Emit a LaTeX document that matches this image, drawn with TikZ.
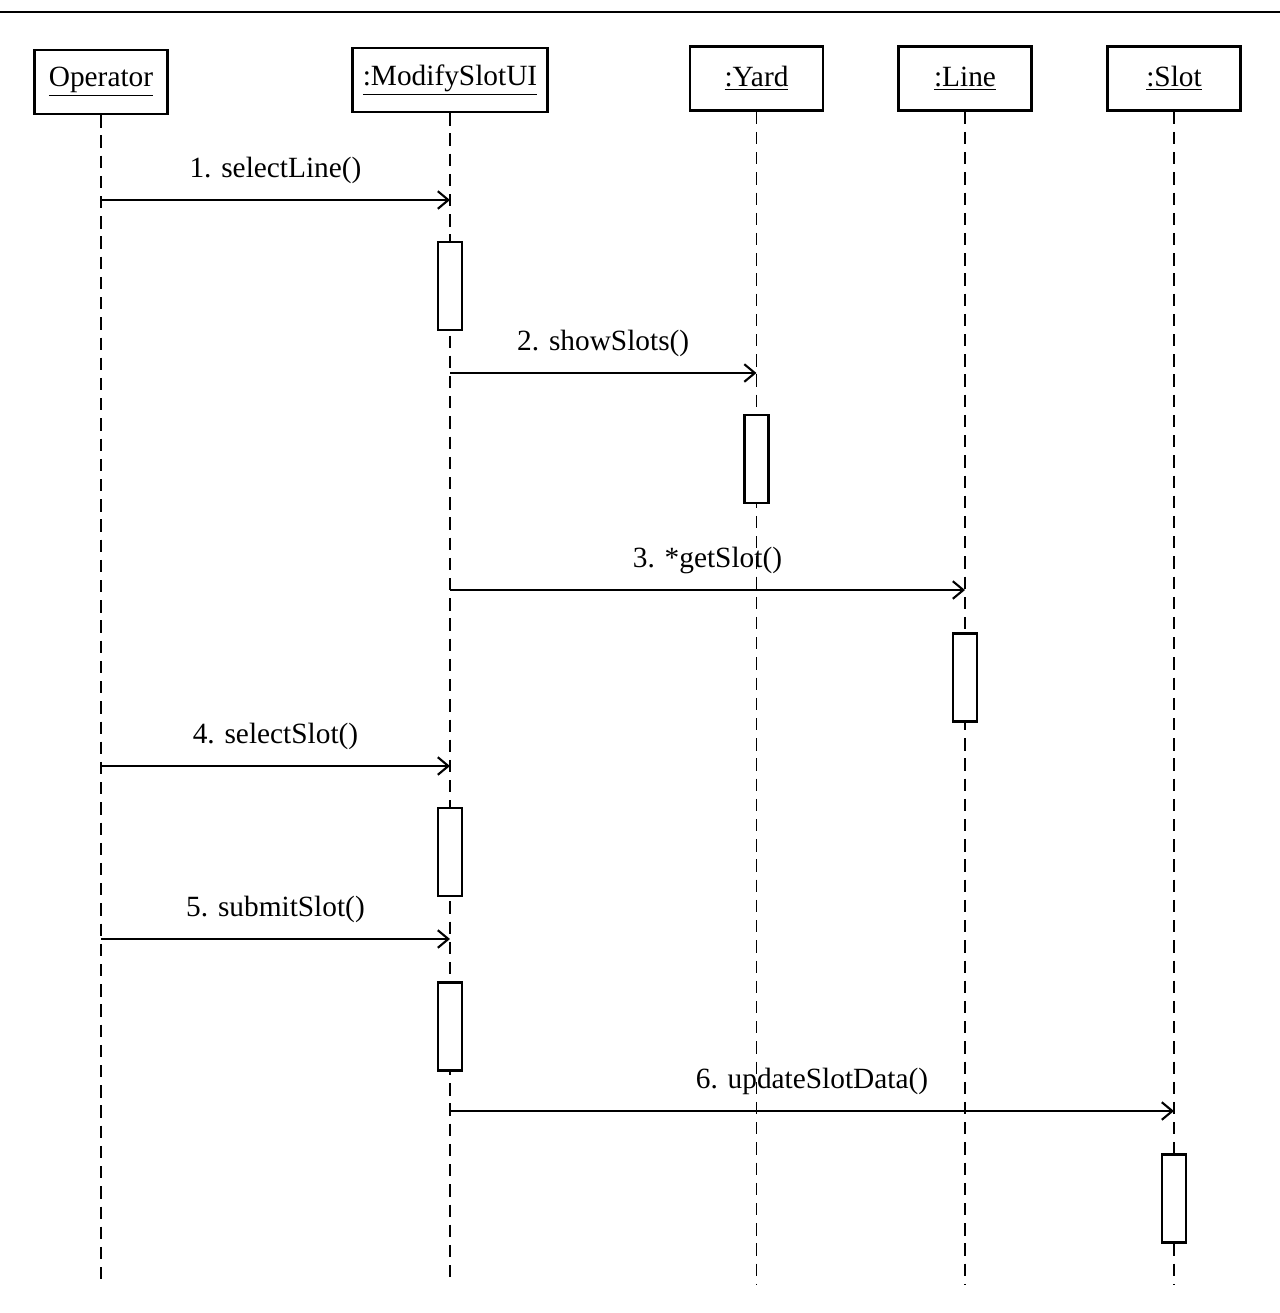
\documentclass[tikz,border=0pt]{standalone}
\usepackage{fontspec}
\setmainfont{Liberation Serif}
\usetikzlibrary{positioning}
\usetikzlibrary{arrows.meta}

\begin{document}
\begin{tikzpicture}[
	font=\fontsize{16.7}{20}\selectfont,
	obj/.style = {rectangle, draw, line width=1.4pt, minimum width=2.66cm, minimum height=1.28cm},
	act/.style = {rectangle, draw, fill=white, line width=1.3pt, minimum width=0.48cm, minimum height=1.76cm, inner sep=0pt},
	life/.style = {line width=1.1pt, dash pattern=on 7pt off 4.5pt},
	msg/.style = {-{Straight Barb[length=6pt, width=10pt, line width=1.2pt]}, line width=1.2pt},
	lbl/.style = {above, inner sep=8.5pt}
	]
	\useasboundingbox (0,0) rectangle (25.6,-26.26);
	
	% === === Frame === ===
	\draw[line width=1.4pt] (0,-0.24) -- (25.6,-0.24);
	
	% === === Objects === ===
	\node[obj]	(op)	at	(2.02, -1.64)	{\underline{Operator}};
	\node[obj, minimum width=3.9cm]	(ui)	at	(9.0, -1.6)	{\underline{:ModifySlotUI}};
	\node[obj]	(yard)	at	(15.13, -1.57)	{\underline{:Yard}};
	\node[obj]	(line)	at	(19.3, -1.57)	{\underline{:Line}};
	\node[obj]	(slot)	at	(23.48, -1.57)	{\underline{:Slot}};
	
	% === === Lifelines === ===
	\coordinate	(opE)	at	(op.south |- 0,-25.7);
	\coordinate	(uiE)	at	(ui.south |- 0,-25.7);
	\coordinate	(yardE)	at	(yard.south |- 0,-25.7);
	\coordinate	(lineE)	at	(line.south |- 0,-25.7);
	\coordinate	(slotE)	at	(slot.south |- 0,-25.7);
	
	\draw[life]	(op.south)	--	(opE);
	\draw[life]	(ui.south)	--	(uiE);
	\draw[life]	(yard.south)	--	(yardE);
	\draw[life]	(line.south)	--	(lineE);
	\draw[life]	(slot.south)	--	(slotE);
	
	% === === Activations === ===
	\node[act]	(a1)	at	(ui.south |- 0,-5.72)	{};
	\node[act]	(a2)	at	(yard.south |- 0,-9.18)	{};
	\node[act]	(a3)	at	(line.south |- 0,-13.55)	{};
	\node[act]	(a4)	at	(ui.south |- 0,-17.04)	{};
	\node[act]	(a5)	at	(ui.south |- 0,-20.53)	{};
	\node[act]	(a6)	at	(slot.south |- 0,-23.97)	{};
	
	% === === Messages === ===
	\draw[msg]	(op.south |- 0,-4.0)	--	node[lbl]	{1. selectLine()}	(ui.south |- 0,-4.0);
	\draw[msg]	(ui.south |- 0,-7.46)	--	node[lbl]	{2. showSlots()}	(yard.south |- 0,-7.46);
	\draw[msg]	(ui.south |- 0,-11.8)	--	node[lbl]	{3. *getSlot()}	(line.south |- 0,-11.8);
	\draw[msg]	(op.south |- 0,-15.32)	--	node[lbl]	{4. selectSlot()}	(ui.south |- 0,-15.32);
	\draw[msg]	(op.south |- 0,-18.78)	--	node[lbl]	{5. submitSlot()}	(ui.south |- 0,-18.78);
	\draw[msg]	(ui.south |- 0,-22.22)	--	node[lbl]	{6. updateSlotData()}	(slot.south |- 0,-22.22);
	
\end{tikzpicture}
\end{document}
